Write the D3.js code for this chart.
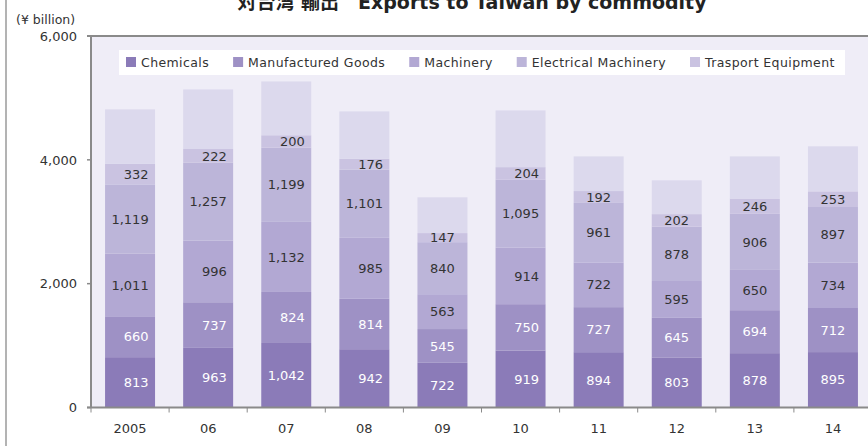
<!DOCTYPE html>
<html>
<head>
<meta charset="utf-8">
<script src="https://cdn.jsdelivr.net/npm/d3@7"></script>
<style>
  body { margin: 0; background: #fff; }
  svg { display: block; font-family: "DejaVu Sans", Verdana, sans-serif; }
</style>
</head>
<body>
<div id="chart"></div>
<script>
// data (¥ billion)
const years = ["2005", "06", "07", "08", "09", "10", "11", "12", "13", "14"];
const chemicals    = [813, 963, 1042, 942, 722, 919, 894, 803, 878, 895];
const manufactured = [660, 737, 824, 814, 545, 750, 727, 645, 694, 712];
const machinery    = [1011, 996, 1132, 985, 563, 914, 722, 595, 650, 734];
const electrical   = [1119, 1257, 1199, 1101, 840, 1095, 961, 878, 906, 897];
const transport    = [332, 222, 200, 176, 147, 204, 192, 202, 246, 253];
// unlabelled top segment (remaining commodities)
const others       = [880, 962, 869, 764, 578, 916, 560, 546, 682, 727];
const yTicks = [0, 2000, 4000, 6000];

const seriesNames = ["Chemicals", "Manufactured Goods", "Machinery", "Electrical Machinery", "Trasport Equipment", "Others"];
const seriesValues = [chemicals, manufactured, machinery, electrical, transport, others];
const colors = ["#8b7bb8", "#9e91c5", "#b2a8d3", "#bcb5d9", "#cac3e1", "#dcd9ed"];
const labelColors = ["#ffffff", "#ffffff", "#333333", "#333333", "#333333", null];

const W = 868, H = 446;
const plot = {left: 91, right: 872, top: 36, bottom: 407.5};

const svg = d3.select("#chart").append("svg")
    .attr("width", W)
    .attr("height", H);

// table for the stack
const table = years.map((y, i) => {
    let row = {year: y};
    seriesNames.forEach((s, k) => { row[s] = seriesValues[k][i]; });
    return row;
});
const stacked = d3.stack().keys(seriesNames)(table);

const x = d3.scaleBand()
    .domain(years)
    .range([plot.left, plot.right])
    .paddingInner(0.36)
    .paddingOuter(0.18);

const y = d3.scaleLinear()
    .domain([0, 6000])
    .range([plot.bottom, plot.top]);

// frame edge on the left
svg.append("line")
    .attr("x1", 6).attr("x2", 6)
    .attr("y1", 0).attr("y2", H)
    .attr("stroke", "#9a9a9a")
    .attr("stroke-width", 1.5);

// title (top is cropped in the reference)
svg.append("text")
    .attr("x", 472)
    .attr("y", 9)
    .attr("text-anchor", "middle")
    .attr("font-size", 19)
    .attr("font-weight", "bold")
    .attr("fill", "#222")
    .style("font-family", "'DejaVu Sans', 'Noto Sans CJK JP', sans-serif")
    .text("対台湾 輸出\u3000Exports to Taiwan by commodity");

svg.append("text")
    .attr("x", 16)
    .attr("y", 24)
    .attr("font-size", 12.5)
    .attr("fill", "#333")
    .text("(¥ billion)");

// plot background
svg.append("rect")
    .attr("x", plot.left)
    .attr("y", plot.top)
    .attr("width", W - plot.left)
    .attr("height", plot.bottom - plot.top)
    .attr("fill", "#efedf7");

// bars
const groups = svg.selectAll(".series").data(stacked).enter()
    .append("g").attr("class", "series")
    .attr("fill", (d, i) => colors[i]);

groups.selectAll("rect").data(d => d).enter()
    .append("rect")
    .attr("x", d => x(d.data.year))
    .attr("y", d => y(d[1]))
    .attr("width", x.bandwidth())
    .attr("height", d => y(d[0]) - y(d[1]));

// value labels: right-aligned in a block centred on the bar
const labels = svg.append("g").attr("font-size", 13);
years.forEach((yr, i) => {
    let items = [];
    stacked.forEach((s, k) => {
        if (labelColors[k] === null) return;
        let v = s[i][1] - s[i][0];
        let t = labels.append("text")
            .attr("y", y((s[i][0] + s[i][1]) / 2))
            .attr("dy", "0.36em")
            .attr("text-anchor", "end")
            .attr("fill", labelColors[k])
            .text(d3.format(",")(v));
        items.push(t);
    });
    let maxW = d3.max(items, t => t.node().getComputedTextLength());
    let cx = x(yr) + x.bandwidth() / 2;
    items.forEach(t => t.attr("x", cx + maxW / 2));
});

// y axis
svg.append("line")
    .attr("x1", plot.left).attr("x2", plot.left)
    .attr("y1", plot.top).attr("y2", plot.bottom)
    .attr("stroke", "#8a8a8a").attr("stroke-width", 2);
svg.append("line")
    .attr("x1", plot.left - 4).attr("x2", W)
    .attr("y1", plot.top).attr("y2", plot.top)
    .attr("stroke", "#8a8a8a").attr("stroke-width", 2);

const yAxis = svg.append("g").attr("font-size", 13);
yTicks.forEach(t => {
    yAxis.append("line")
        .attr("x1", plot.left - 4).attr("x2", plot.left)
        .attr("y1", y(t)).attr("y2", y(t))
        .attr("stroke", "#8a8a8a").attr("stroke-width", 1.5);
    yAxis.append("text")
        .attr("x", 77)
        .attr("y", y(t))
        .attr("dy", "0.36em")
        .attr("text-anchor", "end")
        .attr("fill", "#333")
        .text(d3.format(",")(t));
});

// x axis
svg.append("line")
    .attr("x1", plot.left - 4).attr("x2", W)
    .attr("y1", plot.bottom).attr("y2", plot.bottom)
    .attr("stroke", "#8a8a8a").attr("stroke-width", 2);

const xAxis = svg.append("g").attr("font-size", 13);
years.forEach((yr, i) => {
    let edge = x(yr) - x.step() * x.paddingInner() / 2;
    xAxis.append("line")
        .attr("x1", edge).attr("x2", edge)
        .attr("y1", plot.bottom).attr("y2", plot.bottom + 5)
        .attr("stroke", "#8a8a8a").attr("stroke-width", 1);
    xAxis.append("text")
        .attr("x", x(yr) + x.bandwidth() / 2)
        .attr("y", 428)
        .attr("dy", "0.36em")
        .attr("text-anchor", "middle")
        .attr("fill", "#333")
        .text(yr);
});

// legend
const legend = svg.append("g");
legend.append("rect")
    .attr("x", 119).attr("y", 50)
    .attr("width", 726).attr("height", 25)
    .attr("fill", "#ffffff");
let lx = 126;
seriesNames.slice(0, 5).forEach((name, k) => {
    legend.append("rect")
        .attr("x", lx).attr("y", 57)
        .attr("width", 10).attr("height", 10)
        .attr("fill", colors[k]);
    let t = legend.append("text")
        .attr("x", lx + 15)
        .attr("y", 62)
        .attr("dy", "0.36em")
        .attr("font-size", 12.5)
        .attr("letter-spacing", 0.4)
        .attr("fill", "#333")
        .text(name);
    lx += 15 + t.node().getComputedTextLength() + 24;
});
</script>
</body>
</html>
